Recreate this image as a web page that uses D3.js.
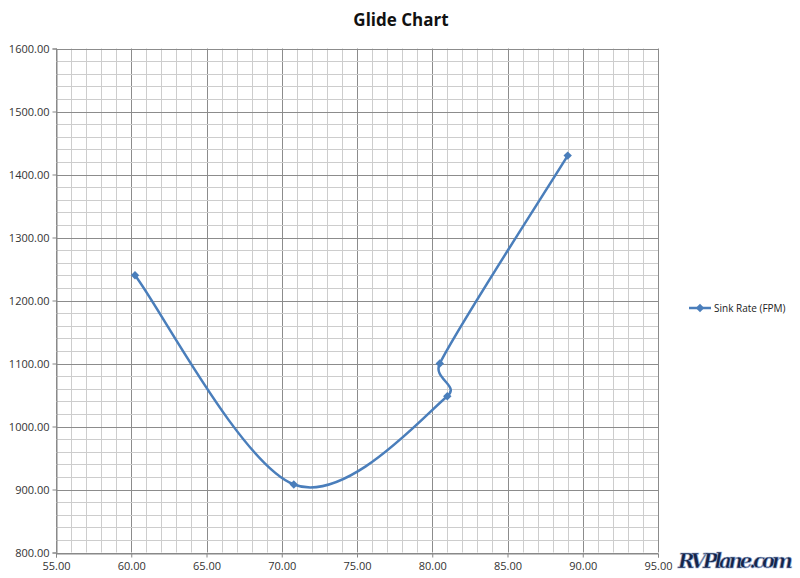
<!DOCTYPE html>
<html><head><meta charset="utf-8">
<script src="https://cdn.jsdelivr.net/npm/d3@7"></script>
<style>body{margin:0;background:#fff;} text{font-family:"Open Sans","DejaVu Sans",sans-serif;}</style>
</head><body>
<svg id="c" width="800" height="578"></svg>
<script>
const xValues = [60.25, 70.8, 81.0, 80.5, 89.0];
const sinkRate = [1240, 908, 1048, 1100, 1430];
const xTicks = [55, 60, 65, 70, 75, 80, 85, 90, 95];
const yTicks = [800, 900, 1000, 1100, 1200, 1300, 1400, 1500, 1600];
const seriesName = "Sink Rate (FPM)";
const title = "Glide Chart";

const svg = d3.select("#c");
const L = 56, R = 658, T = 48.5, B = 552.5;
const x = d3.scaleLinear().domain([55, 95]).range([L, R]);
const y = d3.scaleLinear().domain([800, 1600]).range([B, T]);

const g = svg.append("g");
g.selectAll(".mx").data(d3.range(55, 96, 1)).join("line")
  .attr("x1", d => Math.round(x(d)) + 0.5).attr("x2", d => Math.round(x(d)) + 0.5)
  .attr("y1", T).attr("y2", B).attr("stroke", d => d % 5 === 0 ? "#8c8c8c" : "#cdcdcd").attr("stroke-width", 1);
g.selectAll(".my").data(d3.range(800, 1601, 20)).join("line")
  .attr("y1", d => Math.round(y(d)) + 0.5).attr("y2", d => Math.round(y(d)) + 0.5)
  .attr("x1", L).attr("x2", R).attr("stroke", d => d % 100 === 0 ? "#8c8c8c" : "#cdcdcd").attr("stroke-width", 1);

const fmt = d3.format(".2f");
const xa = svg.append("g").attr("transform", `translate(0,${Math.round(B) + 0.5})`)
  .call(d3.axisBottom(x).tickValues(xTicks).tickFormat(fmt).tickSize(4).tickPadding(5));
const ya = svg.append("g").attr("transform", `translate(${Math.round(L) + 0.5},0)`)
  .call(d3.axisLeft(y).tickValues(yTicks).tickFormat(fmt).tickSize(4).tickPadding(3));
[xa, ya].forEach(a => {
  a.select(".domain").attr("stroke", "#868686");
  a.selectAll(".tick line").attr("stroke", "#868686");
  a.selectAll(".tick text").attr("fill", "#333").style("font-size", "11px")
   .style("font-family", "'Open Sans','DejaVu Sans',sans-serif");
});

// Excel-style smoothed line (Bezier, tension 1/6, arm capped at half segment)
const pts = xValues.map((v, i) => [v, sinkRate[i]]);
const P = pts.map(d => [x(d[0]), y(d[1])]);
const dist = (a, b) => Math.hypot(a[0] - b[0], a[1] - b[1]);
const pth = d3.path();
pth.moveTo(P[0][0], P[0][1]);
for (let i = 0; i < P.length - 1; i++) {
  const p0 = P[Math.max(0, i - 1)], p1 = P[i], p2 = P[i + 1], p3 = P[Math.min(P.length - 1, i + 2)];
  const d12 = dist(p1, p2), d02 = dist(p0, p2), d13 = dist(p1, p3);
  let f0 = 1 / 6, f1 = 1 / 6;
  if (d02 / 6 >= d12 / 2) f0 = d12 / d02 / 2;
  if (d13 / 6 >= d12 / 2) f1 = d12 / d13 / 2;
  const c1 = [p1[0] + (p2[0] - p0[0]) * f0, p1[1] + (p2[1] - p0[1]) * f0];
  const c2 = [p2[0] - (p3[0] - p1[0]) * f1, p2[1] - (p3[1] - p1[1]) * f1];
  pth.bezierCurveTo(c1[0], c1[1], c2[0], c2[1], p2[0], p2[1]);
}
svg.append("path").attr("d", pth.toString()).attr("fill", "none")
  .attr("stroke", "#4a7ebb").attr("stroke-width", 2.5).attr("stroke-linejoin", "round");
const diamond = d3.symbol().type(d3.symbolDiamond2).size(45);
svg.selectAll(".pt").data(pts).join("path")
  .attr("d", diamond).attr("transform", d => `translate(${x(d[0])},${y(d[1])})`)
  .attr("fill", "#4a7ebb");

const lg = svg.append("g").attr("transform", "translate(689,308)");
lg.append("line").attr("x1", 0).attr("x2", 22).attr("y1", 0).attr("y2", 0)
  .attr("stroke", "#4a7ebb").attr("stroke-width", 2.5);
lg.append("path").attr("d", diamond).attr("transform", "translate(11,0)").attr("fill", "#4a7ebb");
lg.append("text").attr("x", 25).attr("y", 4).text(seriesName).style("font-size", "10px").attr("fill", "#222");

svg.append("text").attr("x", 401).attr("y", 26).attr("text-anchor", "middle")
  .style("font-size", "17px").style("font-weight", "bold").attr("fill", "#111").text(title);

svg.append("text").attr("x", 678).attr("y", 568).text("RVPlane.com")
  .style("font-size", "20px").style("font-weight", "bold").style("font-style", "italic")
  .style("font-family", "'DejaVu Serif',serif")
  .attr("fill", "#14254a").attr("stroke", "#9fb3d6").attr("stroke-width", 0.6).attr("textLength", 115);
</script>
</body></html>
